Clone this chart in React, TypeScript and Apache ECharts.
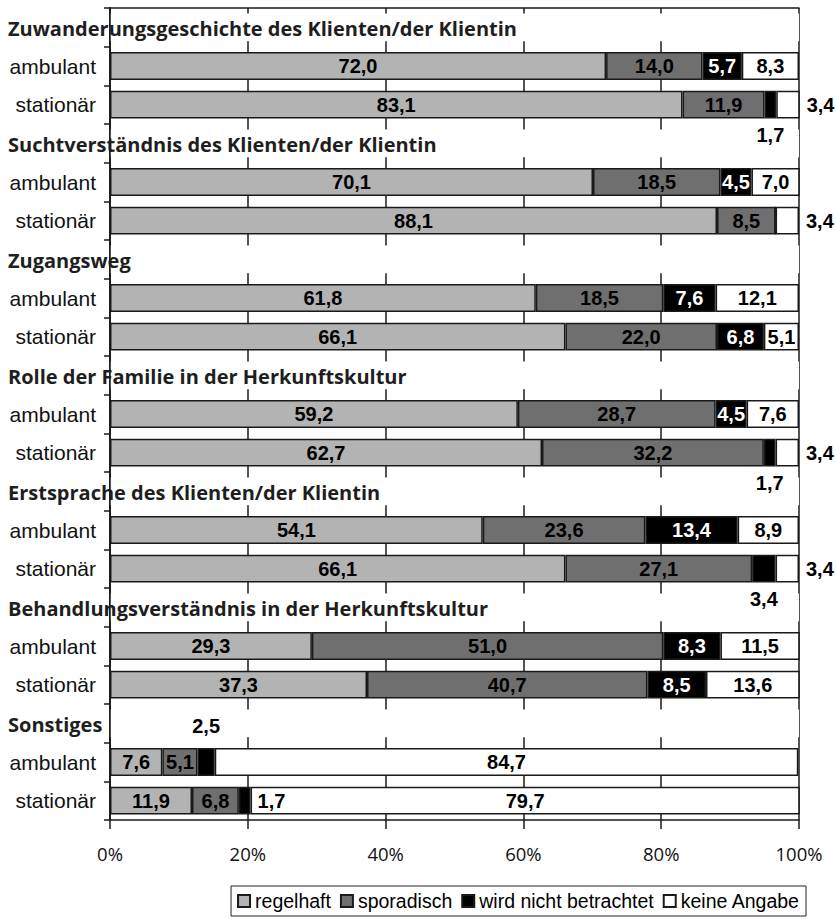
import React, { useEffect, useRef } from 'react';
import * as echarts from 'echarts';

const groups = [
  'Zuwanderungsgeschichte des Klienten/der Klientin',
  'Suchtverständnis des Klienten/der Klientin',
  'Zugangsweg',
  'Rolle der Familie in der Herkunftskultur',
  'Erstsprache des Klienten/der Klientin',
  'Behandlungsverständnis in der Herkunftskultur',
  'Sonstiges',
];
const settings = ['ambulant', 'stationär'];
const seriesNames = ['regelhaft', 'sporadisch', 'wird nicht betrachtet', 'keine Angabe'];

// order: group1 ambulant, group1 stationär, group2 ambulant, ...
const regelhaft = [72.0, 83.1, 70.1, 88.1, 61.8, 66.1, 59.2, 62.7, 54.1, 66.1, 29.3, 37.3, 7.6, 11.9];
const sporadisch = [14.0, 11.9, 18.5, 8.5, 18.5, 22.0, 28.7, 32.2, 23.6, 27.1, 51.0, 40.7, 5.1, 6.8];
const nichtBetrachtet = [5.7, 1.7, 4.5, 0, 7.6, 6.8, 4.5, 1.7, 13.4, 3.4, 8.3, 8.5, 2.5, 1.7];
const keineAngabe = [8.3, 3.4, 7.0, 3.4, 12.1, 5.1, 7.6, 3.4, 8.9, 3.4, 11.5, 13.6, 84.7, 79.7];
const xTicks = [0, 20, 40, 60, 80, 100];

const seriesValues = [regelhaft, sporadisch, nichtBetrachtet, keineAngabe];
const colors = ['#b3b3b3', '#6f6f6f', '#000000', '#ffffff'];
const labelColors = ['#000', '#000', '#fff', '#000'];

// label placement for narrow segments, by series and bar index
const outsideLabels: Record<number, Record<number, { pos: string; dist: number }>> = {
  2: {
    1: { pos: 'bottom', dist: 6 },
    7: { pos: 'bottom', dist: 6 },
    9: { pos: 'bottom', dist: 6 },
    12: { pos: 'top', dist: 12 },
    13: { pos: 'right', dist: 7 },
  },
  3: {
    1: { pos: 'right', dist: 7 },
    3: { pos: 'right', dist: 7 },
    7: { pos: 'right', dist: 7 },
    9: { pos: 'right', dist: 7 },
  },
};

const rows: string[] = groups.flatMap((g) => [g, ...settings]);
const isTitle = (r: number) => r % 3 === 0;
const barIndex = (r: number) => Math.floor(r / 3) * 2 + ((r % 3) - 1);

const fmt = (p: any) =>
  typeof p.value === 'number' && p.value > 0 ? p.value.toFixed(1).replace('.', ',') : '';

const GRID = { left: 110, right: 37, top: 8, bottom: 99 };

export default function App() {
  const ref = useRef<HTMLDivElement>(null);
  useEffect(() => {
    document.body.style.margin = '0';
    const chart = echarts.init(ref.current!, null, { renderer: 'svg' });
    const barWidth = '72%';
    const series: any[] = seriesValues.map((vals, s) => ({
      name: seriesNames[s],
      type: 'bar',
      stack: 'total',
      barWidth,
      itemStyle: { color: colors[s], borderColor: '#1a1a1a', borderWidth: 1.5 },
      label: {
        show: true,
        position: 'inside',
        formatter: fmt,
        color: labelColors[s],
        fontFamily: 'Liberation Sans, Arial, sans-serif',
        fontWeight: 'bold',
        fontSize: 20,
      },
      data: rows.map((_, r) => {
        if (isTitle(r)) return '-';
        const i = barIndex(r);
        const o = outsideLabels[s] && outsideLabels[s][i];
        if (o) return { value: vals[i], label: { position: o.pos, distance: o.dist, color: '#000' } };
        return vals[i];
      }),
    }));
    series.push({
      name: 'blank',
      type: 'bar',
      stack: 'total',
      barWidth,
      silent: true,
      itemStyle: { color: '#fff', borderColor: '#fff', borderWidth: 3 },
      label: { show: false },
      data: rows.map((_, r) => (isTitle(r) ? 100 : '-')),
    });

    const option: any = {
      animation: false,
      backgroundColor: '#fff',
      grid: GRID,
      legend: {
        data: seriesNames,
        right: 30,
        bottom: 3,
        orient: 'horizontal',
        icon: 'rect',
        itemWidth: 12,
        itemHeight: 12,
        itemGap: 9,
        padding: [5, 6, 5, 6],
        borderColor: '#222',
        borderWidth: 1,
        selectedMode: false,
        textStyle: { fontFamily: 'Liberation Sans, Arial, sans-serif', fontSize: 19.5, color: '#000' },
      },
      xAxis: [
        {
          type: 'value',
          min: 0,
          max: 100,
          interval: 20,
          position: 'bottom',
          axisLine: { show: true, lineStyle: { color: '#1a1a1a', width: 1.5 } },
          axisTick: { show: true, length: 9, lineStyle: { color: '#1a1a1a', width: 1.5 } },
          splitLine: { show: true, lineStyle: { color: '#1a1a1a', width: 1.5 } },
          axisLabel: {
            formatter: (v: number) => (xTicks.includes(v) ? `${v}%` : ''),
            fontFamily: 'Open Sans, sans-serif',
            fontSize: 18.5,
            color: '#111',
            margin: 24,
          },
        },
        {
          type: 'value',
          min: 0,
          max: 100,
          interval: 20,
          position: 'top',
          z: 5,
          axisLine: { show: true, lineStyle: { color: '#1a1a1a', width: 1.5 } },
          axisTick: { show: false },
          splitLine: { show: false },
          axisLabel: { show: false },
        },
      ],
      yAxis: [
        {
          type: 'category',
          inverse: true,
          data: rows,
          position: 'left',
          axisLine: { show: true, lineStyle: { color: '#1a1a1a', width: 1.5 } },
          axisTick: { show: true, length: 6, lineStyle: { color: '#1a1a1a', width: 1.5 } },
          splitLine: { show: false },
          axisLabel: {
            interval: 0,
            margin: 14,
            formatter: (v: string, i: number) => (isTitle(i) ? '' : v),
            fontFamily: 'Liberation Sans, Arial, sans-serif',
            fontSize: 21,
            color: '#111',
          },
        },
        {
          type: 'category',
          inverse: true,
          data: rows,
          position: 'right',
          z: 5,
          axisLine: { show: true, lineStyle: { color: '#1a1a1a', width: 1.5 } },
          axisTick: { show: false },
          axisLabel: { show: false },
          splitLine: { show: false },
        },
      ],
      series,
    };
    chart.setOption(option);

    const titles = groups.map((g, gi) => {
      const y = chart.convertToPixel({ yAxisIndex: 0 }, gi * 3) as number;
      return {
        type: 'text',
        x: 8,
        y: y + 1,
        z: 100,
        style: {
          text: g,
          fill: '#1e1e1e',
          font: 'bold 20px "Open Sans", sans-serif',
          textAlign: 'left',
          textVerticalAlign: 'middle',
          verticalAlign: 'middle',
        },
      };
    });
    chart.setOption({ graphic: titles });

    return () => chart.dispose();
  }, []);
  return <div ref={ref} style={{ width: 836, height: 919 }} />;
}
